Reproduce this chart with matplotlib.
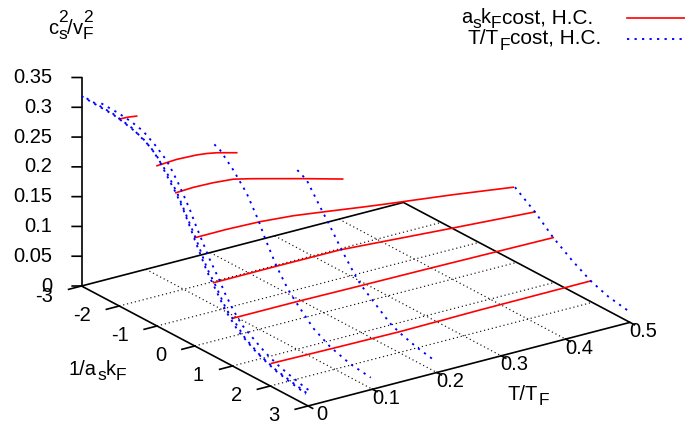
import matplotlib
matplotlib.use('Agg')
import matplotlib.pyplot as plt
from mpl_toolkits.mplot3d import proj3d

plt.rcParams['font.family'] = ['Liberation Sans', 'DejaVu Sans']
plt.rcParams['font.size'] = 14.5

W, H = 685, 428

t_ticks = [0, 0.1, 0.2, 0.3, 0.4, 0.5]
t_labels = ['0', '0.1', '0.2', '0.3', '0.4', '0.5']
a_ticks = [-3, -2, -1, 0, 1, 2, 3]
a_labels = ['-3', '-2', '-1', '0', '1', '2', '3']
z_ticks = [0, 0.05, 0.1, 0.15, 0.2, 0.25, 0.3, 0.35]
z_labels = ['0', '0.05', '0.1', '0.15', '0.2', '0.25', '0.3', '0.35']

# red curves, fixed 1/a_s k_F, c^2 against T
red_am2 = -2
red_am2_t = [0, 0.0136, 0.027]
red_am2_z = [0.3138, 0.3132, 0.3112]
red_am1 = -1
red_am1_t = [0, 0.0306, 0.0616, 0.077, 0.0927, 0.1238]
red_am1_z = [0.269, 0.2711, 0.2698, 0.2679, 0.2648, 0.2561]
red_am05 = -0.5
red_am05_t = [0, 0.027, 0.058, 0.0891, 0.115, 0.141, 0.1978, 0.259]
red_am05_z = [0.2404, 0.2419, 0.241, 0.2382, 0.2317, 0.2245, 0.2086, 0.1908]
red_a0 = 0
red_a0_t = [0, 0.0496, 0.1013, 0.153, 0.2049, 0.2567, 0.2954, 0.399, 0.4946]
red_a0_z = [0.1817, 0.1819, 0.1802, 0.1757, 0.1683, 0.1606, 0.1552, 0.1417, 0.1277]
red_a05 = 0.5
red_a05_t = [0, 0.0927, 0.1963, 0.362, 0.4137, 0.499]
red_a05_z = [0.123, 0.1233, 0.123, 0.1112, 0.1077, 0.1018]
red_a1 = 1
red_a1_t = [0, 0.0997, 0.198, 0.3067, 0.4981]
red_a1_z = [0.08, 0.08, 0.0789, 0.078, 0.0757]
red_a2 = 2
red_a2_t = [0.002, 0.0979, 0.2015, 0.3257, 0.4976]
red_a2_z = [0.0374, 0.0359, 0.0347, 0.0362, 0.0367]

# blue curves, fixed T, c^2 against 1/a_s k_F
blue_t0 = 0
blue_t0_a = [-3, -2.52, -2.18, -2, -1.68, -1.39, -1.18, -1, -0.86, -0.61, -0.5, -0.3,
             -0.13, 0, 0.17, 0.27, 0.4, 0.51, 0.62, 0.76, 0.86, 1, 1.15, 1.57, 1.9,
             2.17, 2.48, 2.79, 2.94]
blue_t0_z = [0.3186, 0.317, 0.316, 0.3138, 0.3089, 0.3029, 0.2938, 0.285, 0.272, 0.2497,
             0.2403, 0.218, 0.196, 0.178, 0.156, 0.1425, 0.128, 0.1175, 0.1065, 0.0925,
             0.0835, 0.074, 0.0635, 0.0465, 0.0365, 0.03, 0.0248, 0.0205, 0.0181]
blue_t1 = 0.002
blue_t1_a = [-2.9, -2.2, -1.7, -1.2, -0.8, -0.5, 0, 0.3, 0.5, 0.8, 1, 1.3, 1.7, 2.1, 2.5, 3]
blue_t1_z = [0.3178, 0.3155, 0.3085, 0.2925, 0.2665, 0.2395, 0.179, 0.1385, 0.12, 0.088,
             0.076, 0.056, 0.0405, 0.0305, 0.0245, 0.0178]
blue_t2 = 0.01
blue_t2_a = [-2.646, -2.204, -1.851, -1.541, -1.205, -0.924, -0.781, -0.606, -0.429, -0.297,
             -0.164, -0.05, 0.233, 0.48, 0.631, 0.763, 0.895, 1.073, 1.558, 1.735, 2,
             2.307, 2.485, 2.644, 2.768, 2.927]
blue_t2_z = [0.3156, 0.3146, 0.3115, 0.3063, 0.2928, 0.2783, 0.2663, 0.2498, 0.2306, 0.2155,
             0.1975, 0.1834, 0.1493, 0.1241, 0.1065, 0.094, 0.0825, 0.069, 0.0484, 0.042,
             0.034, 0.0275, 0.0245, 0.0215, 0.0195, 0.018]
blue_t3 = 0.1
blue_t3_a = [-1.188, -1.037, -0.685, -0.33, -0.023, 0.155, 0.465, 0.772, 0.995, 1.435, 1.877,
             2.407, 2.955]
blue_t3_z = [0.2705, 0.2661, 0.2443, 0.2171, 0.1826, 0.1579, 0.1206, 0.0918, 0.077, 0.0498,
             0.0337, 0.0228, 0.018]
blue_t4 = 0.2
blue_t4_a = [-0.695, -0.447, -0.049, 0.126, 0.481, 0.878, 1.01, 1.76, 2.025, 2.467, 2.953]
blue_t4_z = [0.2159, 0.2075, 0.1705, 0.155, 0.1211, 0.0871, 0.0785, 0.0411, 0.0335, 0.0245,
             0.018]
blue_t5 = 0.5
blue_t5_a = [-0.046, 0.483, 0.968, 1.456, 1.959, 2.425, 2.955]
blue_t5_z = [0.1247, 0.101, 0.0741, 0.053, 0.0347, 0.024, 0.0178]

red_curves = [(red_am2, red_am2_t, red_am2_z), (red_am1, red_am1_t, red_am1_z),
              (red_am05, red_am05_t, red_am05_z), (red_a0, red_a0_t, red_a0_z),
              (red_a05, red_a05_t, red_a05_z), (red_a1, red_a1_t, red_a1_z),
              (red_a2, red_a2_t, red_a2_z)]
blue_curves = [(blue_t0, blue_t0_a, blue_t0_z), (blue_t1, blue_t1_a, blue_t1_z),
               (blue_t2, blue_t2_a, blue_t2_z), (blue_t3, blue_t3_a, blue_t3_z),
               (blue_t4, blue_t4_a, blue_t4_z), (blue_t5, blue_t5_a, blue_t5_z)]

DOTS = (0, (1.2, 2.8))

fig = plt.figure(figsize=(W / 100, H / 100), dpi=100)
ax = fig.add_axes([0, (H - W) / 2 / H, 1, W / H], projection='3d', proj_type='ortho',
                  computed_zorder=False)
ax.set_axis_off()
ax.view_init(elev=21.76, azim=-125)
ax.set_xlim(0, 0.5)
ax.set_ylim(3, -3)
ax.set_zlim(0, 0.35)


def to_px(t, a, z):
    x, y, _ = proj3d.proj_transform(t, a, z, ax.get_proj())
    return ax.transData.transform((x, y))


# scale and shift the 3d box onto the reference corners
box = (393, 395, 224.5)
ax.set_box_aspect(box, zoom=1)
fig.canvas.draw()
zoom = 208.5 / (to_px(0, -3, 0.35)[1] - to_px(0, -3, 0)[1])
ax.set_box_aspect(box, zoom=zoom)
fig.canvas.draw()
px0 = to_px(0, -3, 0)
pos = ax.get_position(original=True)
ax.set_position([pos.x0 + (81.5 - px0[0]) / W, pos.y0 + (H - 286 - px0[1]) / H, pos.width, pos.height])
fig.canvas.draw()

# grid on the floor
for t in t_ticks[1:-1]:
    ax.plot([t, t], [-3, 3], [0, 0], color='#111111', lw=0.85, ls=(0, (1, 2.4)), zorder=1)
for a in a_ticks[1:-1]:
    ax.plot([0, 0.5], [a, a], [0, 0], color='#111111', lw=0.85, ls=(0, (1, 2.4)), zorder=1)

# floor border, z axis and ticks
ax.plot([0, 0.5, 0.5, 0, 0], [-3, -3, 3, 3, -3], [0, 0, 0, 0, 0], color='black', lw=1.2, zorder=2)
ax.plot([0, 0], [-3, -3], [0, 0.35], color='black', lw=1.2, zorder=2)
for a in a_ticks:
    ax.plot([-0.02, 0], [a, a], [0, 0], color='black', lw=1.2, zorder=2)
for t in t_ticks:
    ax.plot([t, t], [3, 3.12], [0, 0], color='black', lw=1.2, zorder=2)
for z in z_ticks:
    ax.plot([-0.0097, 0], [-3.081, -3], [z, z], color='black', lw=1.2, zorder=2)

for a, ts, zs in red_curves:
    ax.plot(ts, [a] * len(ts), zs, color='#ff0000', lw=1.2, zorder=3)
for t, aa, zs in blue_curves:
    ax.plot([t] * len(aa), aa, zs, color='#0000ff', lw=1.35, ls=DOTS, zorder=4)

renderer = fig.canvas.get_renderer()


def run_text(x, y, parts):
    # gnuplot style labels: each piece has its own drop and size
    for s, dy, size, advance in parts:
        t = fig.text(x / W, 1 - (y + dy) / H, s, size=size, ha='left', va='baseline')
        if advance:
            x += t.get_window_extent(renderer).width


for z, s in zip(z_ticks, z_labels):
    p = to_px(0, -3, z)
    fig.text(52.5 / W, p[1] / H, s, ha='right', va='center')
for a, s in zip(a_ticks, a_labels):
    p = to_px(0, a, 0)
    fig.text((p[0] - 28.5) / W, (p[1] - 10) / H, s, ha='right', va='center')
for t, s in zip(t_ticks, t_labels):
    p = to_px(t, 3, 0)
    fig.text((p[0] + 13.5) / W, (p[1] - 9) / H, s, ha='center', va='center')

SUB = 12.5
run_text(48, 33.5, [('c', 0, 14.5, True), ('2', -12, SUB, False), ('s', 5.5, SUB, True),
                    ('/', 0, 14.5, True), ('v', 0, 14.5, True), ('2', -12, SUB, False),
                    ('F', 5.5, SUB, True)])
run_text(69, 375, [('1/a', 0, 14.5, True), ('s', 5.5, SUB, True), ('k', 0, 14.5, True),
                   ('F', 5, SUB, True)])
run_text(508, 400, [('T/T', 0, 14.5, True), ('F', 5, SUB, True)])

# key
run_text(461, 23, [('a', 0, 14.5, True), ('s', 5.5, SUB, True), ('k', 0, 14.5, True),
                   ('F', 5, SUB, True), ('cost, H.C.', 0, 15, True)])
run_text(468, 44, [('T/T', 0, 15, True), ('F', 5.5, SUB, True), ('cost, H.C.', 0, 15, True)])
fig.add_artist(plt.Line2D([626.5 / W, 685 / W], [1 - 18 / H, 1 - 18 / H], color='#ff0000', lw=1.2))
fig.add_artist(plt.Line2D([626.5 / W, 685 / W], [1 - 39 / H, 1 - 39 / H], color='#0000ff', lw=1.35, ls=DOTS))

fig.savefig('out.png', dpi=100)
